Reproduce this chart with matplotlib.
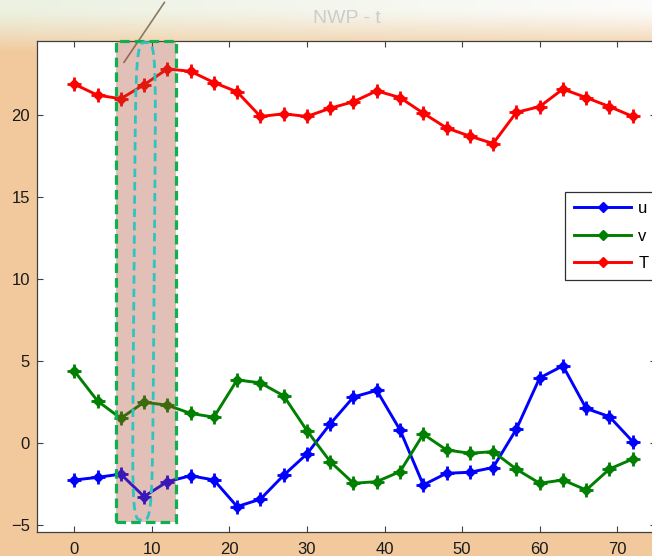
import matplotlib
matplotlib.use('Agg')
import matplotlib.pyplot as plt
from matplotlib.patches import Rectangle, Polygon
import numpy as np

# hours
t = [0, 3, 6, 9, 12, 15, 18, 21, 24, 27, 30, 33, 36, 39, 42, 45, 48, 51, 54, 57, 60, 63, 66, 69, 72]

u = [-2.26, -2.1, -1.9, -3.27, -2.36, -2.0, -2.26, -3.88, -3.43, -1.97, -0.67, 1.16, 2.8, 3.2,
     0.79, -2.56, -1.85, -1.79, -1.5, 0.84, 3.96, 4.7, 2.1, 1.6, 0.08]
v = [4.39, 2.56, 1.5, 2.48, 2.3, 1.8, 1.57, 3.84, 3.66, 2.87, 0.75, -1.14, -2.46, -2.36,
     -1.75, 0.53, -0.43, -0.63, -0.53, -1.6, -2.46, -2.26, -2.87, -1.59, -0.98]
T = [21.87, 21.2, 20.98, 21.83, 22.8, 22.65, 21.97, 21.4, 19.9, 20.06, 19.9, 20.4, 20.8, 21.46,
     21.05, 20.1, 19.2, 18.7, 18.25, 20.15, 20.5, 21.57, 21.05, 20.5, 19.9]

series = [('u', u, '#0000ff'), ('v', v, '#008000'), ('T', T, '#ff0000')]

# highlighted window
win_x0, win_x1 = 5.4, 13.1
win_y0 = -4.8

fig = plt.figure(figsize=(6.52, 5.56), dpi=100)

# window background gradient
H, W = 556, 652
yy, xx = np.mgrid[0:H, 0:W]
peach = np.array([242, 201, 156]) / 255
cream = np.array([236, 241, 225]) / 255
white = np.array([252, 252, 250]) / 255
fx = (xx / W)[..., None]
top = cream * (1 - fx) + white * fx
fv = np.clip((yy - 8) / 44, 0, 1)[..., None] ** 1.3
img = top * (1 - fv) + peach * fv
bg = fig.add_axes([0, 0, 1, 1], zorder=-10)
bg.imshow(img, aspect='auto', extent=[0, 1, 0, 1])
bg.axis('off')

ax = fig.add_axes([37 / 652, 1 - 532 / 556, (656 - 37) / 652, 491 / 556])
ax.set_facecolor('white')

for name, vals, col in series:
    ax.plot(t, vals, '-', color=col, lw=2.1, marker='D', ms=5.5, label=name, zorder=2)
    ax.plot(t, vals, ls='none', color=col, marker='+', ms=10, mew=2, zorder=2)

ax.set_xlim(-4.8, 75)
ax.set_ylim(-5.43, 24.5)
ax.set_xticks(range(0, 71, 10))
ax.set_yticks([-5, 0, 5, 10, 15, 20])

ax.add_patch(Rectangle((win_x0, win_y0), win_x1 - win_x0, 24.5 - win_y0,
                       facecolor='#ac472c', alpha=0.34, edgecolor='none', zorder=3))
ax.add_patch(Rectangle((win_x0, win_y0), win_x1 - win_x0, 24.5 - win_y0,
                       facecolor='none', edgecolor='#10b050', lw=2.3,
                       linestyle=(0, (3, 1.6)), zorder=4, clip_on=False))

# hand-drawn looking capsule around t = 9
th = np.linspace(0, 2 * np.pi, 200)
cx, cy, a, b = 9.0, 9.85, 1.3, 14.55
ex = a * np.sign(np.cos(th)) * np.abs(np.cos(th)) ** 0.5
ey = b * np.sign(np.sin(th)) * np.abs(np.sin(th)) ** 0.25
ex = cx + ex + 0.017 * ey
ey = cy + ey
ax.add_patch(Polygon(np.column_stack([ex, ey]), closed=True, facecolor='none',
                     edgecolor='#30c4c0', lw=2, linestyle=(0, (3, 1.8)), zorder=4))

ax.annotate('', xy=(6.2, 23.05), xytext=(11.84, 27.0),
            arrowprops=dict(arrowstyle='-', color='#8a7a62', lw=1.2),
            annotation_clip=False, zorder=2.5)

ax.set_title('NWP - t', fontsize=14, color='#cccccc', pad=13, family='Liberation Sans')

for s in ax.spines.values():
    s.set_color('#404040')
    s.set_linewidth(0.9)
ax.tick_params(direction='in', top=True, right=True, length=4, width=0.8,
               color='#404040', labelsize=12, labelcolor='#1a1a1a')
ax.tick_params(axis='x', pad=7)
ax.tick_params(axis='y', pad=5)
for lab in ax.get_xticklabels() + ax.get_yticklabels():
    lab.set_family('Liberation Sans')

leg = ax.legend(loc='upper left', bbox_to_anchor=(0.853, 0.6925),
                prop={'family': 'Liberation Sans', 'size': 12},
                fancybox=False, framealpha=1, edgecolor='#303030',
                handlelength=3.4, handletextpad=0.45, labelspacing=0.75,
                borderpad=0.55, borderaxespad=0)
leg.get_frame().set_linewidth(0.9)
leg.set_zorder(5)

fig.savefig('out.png', dpi=100)
